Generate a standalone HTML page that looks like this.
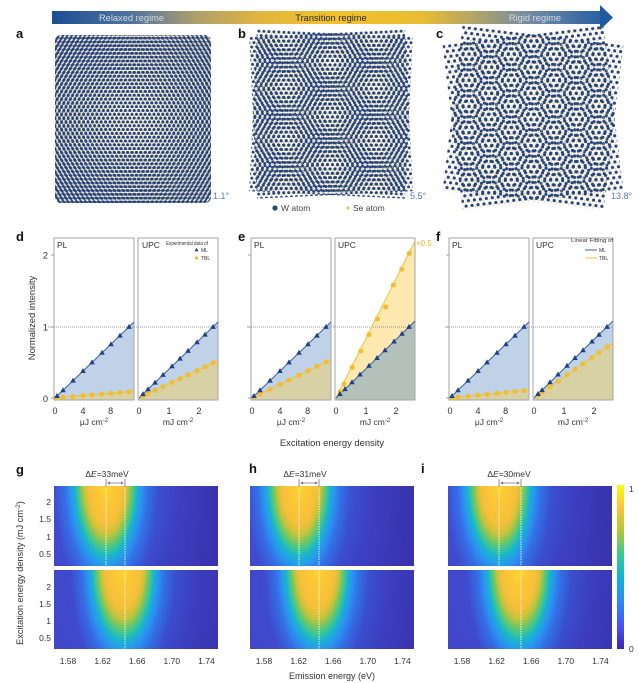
<!DOCTYPE html>
<html><head><meta charset="utf-8">
<style>
html,body{margin:0;padding:0;background:#fff;}
#w{position:relative;width:639px;height:683px;overflow:hidden;background:#fff;font-family:"Liberation Sans",sans-serif;}
.hm{position:absolute;width:164px;height:80px;
background:
radial-gradient(ellipse 104px 250px at var(--c) -4px, #fbd92c 0%, #fcc835 8%, #f6bf3a 17%, #c9c33b 21%, #80c65a 24%, #3cc793 27%, #19b4ce 30%, #2a95f1 34%, rgba(45,135,247,.5) 40%, rgba(60,110,245,0) 50%),
radial-gradient(ellipse 100px 190px at calc(var(--c) + 8px) 0px, rgba(45,135,247,.75) 0%, rgba(52,118,242,.5) 35%, rgba(66,92,236,.22) 65%, rgba(66,80,230,0) 100%),
linear-gradient(to right, #4045c6, #3c3bba 55%, #3933ae);}
.cb{position:absolute;left:617px;top:485px;width:7px;height:164px;background:linear-gradient(to top,#3e26a8 0%,#4852f4 14%,#2d87f7 28%,#12b1d6 43%,#37c897 57%,#abc739 71%,#fec338 86%,#f9fb14 100%);}
svg{position:absolute;left:0;top:0;}
</style></head><body><div id="w">
<div class="hm" style="left:54px;top:486px;--c:52px"></div>
<div class="hm" style="left:54px;top:570px;height:79px;--c:69px"></div>
<div class="hm" style="left:250px;top:486px;--c:49px"></div>
<div class="hm" style="left:250px;top:570px;height:79px;--c:67px"></div>
<div class="hm" style="left:448px;top:486px;--c:51px"></div>
<div class="hm" style="left:448px;top:570px;height:79px;--c:71px"></div>
<div class="cb"></div>
<svg width="639" height="683" viewBox="0 0 639 683" xmlns="http://www.w3.org/2000/svg" font-family="Liberation Sans, sans-serif">
<defs>
<linearGradient id="bar" x1="52" y1="0" x2="613" y2="0" gradientUnits="userSpaceOnUse">
<stop offset="0" stop-color="#1a4f95"/>
<stop offset="0.14" stop-color="#4f739e"/>
<stop offset="0.26" stop-color="#b0a06a"/>
<stop offset="0.37" stop-color="#e0b540"/>
<stop offset="0.5" stop-color="#f2c12a"/>
<stop offset="0.66" stop-color="#e9bc32"/>
<stop offset="0.74" stop-color="#b9a860"/>
<stop offset="0.86" stop-color="#6e88a6"/>
<stop offset="1" stop-color="#1d5aa0"/>
</linearGradient>
<pattern id="pa" width="4.4" height="7.621" patternUnits="userSpaceOnUse">
<g fill="#26427c"><circle cx="0" cy="0" r="1.45"/><circle cx="4.4" cy="0" r="1.45"/><circle cx="0" cy="7.621" r="1.45"/><circle cx="4.4" cy="7.621" r="1.45"/><circle cx="2.2" cy="3.81" r="1.45"/></g>
<g fill="#e0c14a"><circle cx="2.2" cy="1.27" r="0.55"/><circle cx="0" cy="5.08" r="0.55"/><circle cx="4.4" cy="5.08" r="0.55"/></g>
</pattern>
<pattern id="pb" width="5" height="8.66" patternUnits="userSpaceOnUse">
<g fill="#26427c"><circle cx="0" cy="0" r="1.5"/><circle cx="5" cy="0" r="1.5"/><circle cx="0" cy="8.66" r="1.5"/><circle cx="5" cy="8.66" r="1.5"/><circle cx="2.5" cy="4.33" r="1.5"/></g>
<g fill="#e0c14a"><circle cx="2.5" cy="1.443" r="0.6"/><circle cx="0" cy="5.774" r="0.6"/><circle cx="5" cy="5.774" r="0.6"/></g>
</pattern>
<pattern id="pc" width="6" height="10.392" patternUnits="userSpaceOnUse">
<g fill="#26427c"><circle cx="0" cy="0" r="1.6"/><circle cx="6" cy="0" r="1.6"/><circle cx="0" cy="10.392" r="1.6"/><circle cx="6" cy="10.392" r="1.6"/><circle cx="3" cy="5.196" r="1.6"/></g>
<g fill="#e0c14a"><circle cx="3" cy="1.732" r="0.65"/><circle cx="0" cy="6.928" r="0.65"/><circle cx="6" cy="6.928" r="0.65"/></g>
</pattern>
<clipPath id="ca"><rect x="55" y="35" width="156" height="168" rx="6"/></clipPath>
<path id="t" d="M0,-3.1L2.8,1.9L-2.8,1.9Z" fill="#1d4088"/>
<circle id="o" r="2.5" fill="#f3bd2c"/>
</defs>

<!-- top bar -->
<rect x="52" y="11" width="550" height="13" fill="url(#bar)"/>
<path d="M600,5L613,17.5L600,30Z" fill="#1d5aa0"/>
<text x="131.5" y="21" font-size="9.3" text-anchor="middle" fill="#d4dbe6">Relaxed regime</text>
<text x="331" y="21" font-size="9.3" text-anchor="middle" fill="#2a2a2a">Transition regime</text>
<text x="535" y="21" font-size="9.3" text-anchor="middle" fill="#d6dce6">Rigid regime</text>

<!-- panel labels -->
<g font-weight="bold" font-size="13" fill="#111">
<text x="16" y="38">a</text><text x="238" y="38">b</text><text x="436" y="38">c</text>
<text x="16" y="241">d</text><text x="238" y="241">e</text><text x="436" y="241">f</text>
<text x="16" y="474">g</text><text x="249" y="473">h</text><text x="421" y="473">i</text>
</g>

<!-- moire a -->
<g clip-path="url(#ca)">
<rect x="45" y="25" width="176" height="188" fill="url(#pa)" transform="rotate(0.55 133 119)"/>
<rect x="45" y="25" width="176" height="188" fill="url(#pa)" transform="rotate(-0.55 133 119)"/>
</g>
<!-- moire b -->
<rect x="253" y="33" width="156" height="162" fill="url(#pb)" transform="rotate(2.75 331 114)"/>
<rect x="253" y="33" width="156" height="162" fill="url(#pb)" transform="rotate(-2.75 331 114)"/>
<!-- moire c -->
<rect x="452" y="35" width="162" height="166" fill="url(#pc)" transform="rotate(6.9 533 118)"/>
<rect x="452" y="35" width="162" height="166" fill="url(#pc)" transform="rotate(-6.9 533 118)"/>

<g font-size="9" fill="#5a7db0">
<text x="213" y="199">1.1°</text><text x="410" y="199">5.5°</text><text x="611" y="199">13.8°</text>
</g>
<circle cx="275" cy="208" r="2.6" fill="#29457f"/>
<text x="281" y="211" font-size="8.5" fill="#444">W atom</text>
<circle cx="348" cy="208" r="1.5" fill="#e0c14a"/>
<text x="353" y="211" font-size="8.5" fill="#444">Se atom</text>

<!-- middle fills -->
<polygon points="54,399 134,322 134,400 54,400" fill="#bfd2e8"/>
<polygon points="54,399 134,391.3 134,400 54,400" fill="#d8d1a6"/>
<polygon points="138,399 218,322 218,400 138,400" fill="#bfd2e8"/>
<polygon points="138,399 218,360.6 218,400 138,400" fill="#d8d1a6"/>
<polygon points="251,399 331,322 331,400 251,400" fill="#bfd2e8"/>
<polygon points="251,399 331,359.6 331,400 251,400" fill="#d8d1a6"/>
<polygon points="335,399 415,241 415,400 335,400" fill="#fde9b0"/>
<polygon points="335,399 415,321 415,400 335,400" fill="#b4c1ba"/>
<polygon points="449,399 529,322 529,400 449,400" fill="#bfd2e8"/>
<polygon points="449,399 529,390 529,400 449,400" fill="#d8d1a6"/>
<polygon points="533,399 613,321 613,400 533,400" fill="#bfd2e8"/>
<polygon points="533,399 613,342.8 613,400 533,400" fill="#d8d1a6"/>

<!-- dotted y=1 -->
<g stroke="#777" stroke-width="0.8" stroke-dasharray="1 1">
<line x1="48" y1="327" x2="218" y2="327"/>
<line x1="247" y1="327" x2="415" y2="327"/>
<line x1="445" y1="327" x2="613" y2="327"/>
</g>

<!-- boxes -->
<g fill="none" stroke="#a5a5a5" stroke-width="1">
<rect x="54" y="238" width="80" height="162"/>
<rect x="138" y="238" width="80" height="162"/>
<rect x="251" y="238" width="80" height="162"/>
<rect x="335" y="238" width="80" height="162"/>
<rect x="449" y="238" width="80" height="162"/>
<rect x="533" y="238" width="80" height="162"/>
</g>
<g stroke="#888" stroke-width="0.8">
<path d="M51,255H54M51,327H54M51,398H54M248,255H251M248,327H251M248,398H251M446,255H449M446,327H449M446,398H449"/>
</g>

<!-- lines -->
<g stroke-width="1" fill="none">
<g stroke="#f1c03a">
<line x1="55" y1="398" x2="134" y2="391.3"/>
<line x1="139" y1="398" x2="218" y2="360.6"/>
<line x1="252" y1="398" x2="331" y2="359.6"/>
<line x1="336" y1="398" x2="415" y2="241"/>
<line x1="450" y1="398" x2="529" y2="390"/>
<line x1="534" y1="398" x2="613" y2="342.8"/>
</g>
<g stroke="#35609f">
<line x1="55" y1="398" x2="134" y2="322"/>
<line x1="139" y1="398" x2="218" y2="322"/>
<line x1="252" y1="398" x2="331" y2="322"/>
<line x1="336" y1="398" x2="415" y2="321"/>
<line x1="450" y1="398" x2="529" y2="322"/>
<line x1="534" y1="398" x2="613" y2="321"/>
</g>
</g>

<!-- TBL markers -->
<g>
<use href="#o" x="57" y="397.8"/><use href="#o" x="63" y="397.3"/><use href="#o" x="73" y="396.5"/><use href="#o" x="83" y="395.6"/><use href="#o" x="92" y="394.9"/><use href="#o" x="102" y="394"/><use href="#o" x="111" y="393.2"/><use href="#o" x="120" y="392.5"/><use href="#o" x="129" y="391.7"/>
<use href="#o" x="143" y="396.1"/><use href="#o" x="148" y="393.7"/><use href="#o" x="155" y="390.4"/><use href="#o" x="163" y="386.6"/><use href="#o" x="172" y="382.4"/><use href="#o" x="180" y="378.6"/><use href="#o" x="188" y="374.8"/><use href="#o" x="197" y="370.6"/><use href="#o" x="205" y="366.8"/><use href="#o" x="213" y="363"/>
<use href="#o" x="254" y="397"/><use href="#o" x="260" y="394.1"/><use href="#o" x="270" y="389.3"/><use href="#o" x="280" y="384.4"/><use href="#o" x="289" y="380"/><use href="#o" x="299" y="375.2"/><use href="#o" x="308" y="370.8"/><use href="#o" x="317" y="366.4"/><use href="#o" x="326" y="362"/>
<use href="#o" x="340" y="391.7"/><use href="#o" x="344" y="384"/><use href="#o" x="352.3" y="367.3"/><use href="#o" x="360.7" y="351"/><use href="#o" x="369" y="334.7"/><use href="#o" x="377.3" y="319"/><use href="#o" x="385.7" y="307"/><use href="#o" x="393.3" y="285"/><use href="#o" x="401.7" y="269.3"/><use href="#o" x="409.3" y="253.3"/>
<use href="#o" x="452" y="397.8"/><use href="#o" x="458" y="397.2"/><use href="#o" x="468" y="396.2"/><use href="#o" x="478" y="395.2"/><use href="#o" x="487" y="394.3"/><use href="#o" x="497" y="393.3"/><use href="#o" x="506" y="392.3"/><use href="#o" x="515" y="391.4"/><use href="#o" x="524" y="390.5"/>
<use href="#o" x="538" y="395.2"/><use href="#o" x="542" y="392.4"/><use href="#o" x="550" y="386.8"/><use href="#o" x="558" y="381.2"/><use href="#o" x="567" y="374.9"/><use href="#o" x="575" y="369.3"/><use href="#o" x="583" y="363.8"/><use href="#o" x="592" y="357.5"/><use href="#o" x="599" y="352.6"/><use href="#o" x="607" y="347"/>
</g>
<!-- ML markers -->
<g>
<use href="#t" x="57" y="396.1"/><use href="#t" x="63" y="390.3"/><use href="#t" x="73" y="380.7"/><use href="#t" x="83" y="371.1"/><use href="#t" x="92" y="362.5"/><use href="#t" x="102" y="352.9"/><use href="#t" x="111" y="344.3"/><use href="#t" x="120" y="335.7"/><use href="#t" x="129" y="327"/>
<use href="#t" x="143" y="394.2"/><use href="#t" x="148" y="389.4"/><use href="#t" x="155" y="382.7"/><use href="#t" x="163" y="375"/><use href="#t" x="172" y="366.4"/><use href="#t" x="180" y="358.7"/><use href="#t" x="188" y="351"/><use href="#t" x="197" y="342.4"/><use href="#t" x="205" y="334.7"/><use href="#t" x="213" y="327"/>
<use href="#t" x="254" y="396.1"/><use href="#t" x="260" y="390.3"/><use href="#t" x="270" y="380.7"/><use href="#t" x="280" y="371.1"/><use href="#t" x="289" y="362.5"/><use href="#t" x="299" y="352.9"/><use href="#t" x="308" y="344.3"/><use href="#t" x="317" y="335.7"/><use href="#t" x="326" y="327"/>
<use href="#t" x="340" y="394.1"/><use href="#t" x="345" y="389.2"/><use href="#t" x="352" y="382.4"/><use href="#t" x="360" y="374.6"/><use href="#t" x="369" y="365.9"/><use href="#t" x="377" y="358.1"/><use href="#t" x="385" y="350.3"/><use href="#t" x="394" y="341.6"/><use href="#t" x="402" y="333.8"/><use href="#t" x="409" y="327"/>
<use href="#t" x="452" y="396.1"/><use href="#t" x="458" y="390.3"/><use href="#t" x="468" y="380.7"/><use href="#t" x="478" y="371.1"/><use href="#t" x="487" y="362.5"/><use href="#t" x="497" y="352.9"/><use href="#t" x="506" y="344.3"/><use href="#t" x="515" y="335.7"/><use href="#t" x="524" y="327"/>
<use href="#t" x="538" y="394.1"/><use href="#t" x="542" y="390.2"/><use href="#t" x="550" y="382.4"/><use href="#t" x="558" y="374.6"/><use href="#t" x="567" y="365.9"/><use href="#t" x="575" y="358.1"/><use href="#t" x="583" y="350.3"/><use href="#t" x="592" y="341.6"/><use href="#t" x="599" y="334.8"/><use href="#t" x="607" y="327"/>
</g>

<!-- middle texts -->
<g font-size="8.5" fill="#333">
<text x="57" y="248">PL</text><text x="142" y="248">UPC</text>
<text x="254" y="248">PL</text><text x="338" y="248">UPC</text>
<text x="452" y="248">PL</text><text x="536" y="248">UPC</text>
</g>
<text x="416" y="246" font-size="8" fill="#f0b929">×0.5</text>
<g font-size="5" fill="#333">
<text x="166" y="245" textLength="42" lengthAdjust="spacingAndGlyphs">Experimental data of</text>
<text x="201" y="252">ML</text><text x="201" y="260">TBL</text>
<text x="571" y="242" textLength="42" lengthAdjust="spacingAndGlyphs">Linear Fitting of</text>
<text x="599" y="252">ML</text><text x="599" y="260">TBL</text>
</g>
<path d="M196.5,247.8L198.5,251.3L194.5,251.3Z" fill="#1d4088"/>
<circle cx="196.5" cy="258" r="1.6" fill="#f3bd2c"/>
<line x1="585" y1="250" x2="597" y2="250" stroke="#35609f" stroke-width="1"/>
<line x1="585" y1="258" x2="597" y2="258" stroke="#f1c03a" stroke-width="1"/>

<g font-size="9.3" fill="#333" text-anchor="end">
<text x="48" y="258.5">2</text><text x="48" y="330.5">1</text><text x="48" y="402">0</text>
</g>
<text transform="translate(35 318) rotate(-90)" font-size="9.4" fill="#333" text-anchor="middle">Normalized intensity</text>

<g font-size="9" fill="#333" text-anchor="middle">
<text x="55" y="414">0</text><text x="83" y="414">4</text><text x="110.6" y="414">8</text>
<text x="139" y="414">0</text><text x="169" y="414">1</text><text x="199" y="414">2</text>
<text x="252" y="414">0</text><text x="280" y="414">4</text><text x="307.6" y="414">8</text>
<text x="336" y="414">0</text><text x="366" y="414">1</text><text x="396" y="414">2</text>
<text x="450" y="414">0</text><text x="478" y="414">4</text><text x="505.6" y="414">8</text>
<text x="534" y="414">0</text><text x="564" y="414">1</text><text x="594" y="414">2</text>
</g>
<g font-size="8.5" fill="#333" text-anchor="middle">
<text x="94" y="425">μJ cm<tspan font-size="6" dy="-3">-2</tspan></text>
<text x="178" y="425">mJ cm<tspan font-size="6" dy="-3">-2</tspan></text>
<text x="291" y="425">μJ cm<tspan font-size="6" dy="-3">-2</tspan></text>
<text x="375" y="425">mJ cm<tspan font-size="6" dy="-3">-2</tspan></text>
<text x="489" y="425">μJ cm<tspan font-size="6" dy="-3">-2</tspan></text>
<text x="573" y="425">mJ cm<tspan font-size="6" dy="-3">-2</tspan></text>
</g>
<text x="332" y="446" font-size="9.4" fill="#333" text-anchor="middle">Excitation energy density</text>

<!-- heatmap overlays -->
<g stroke="#fff" stroke-opacity="0.85" stroke-width="1" stroke-dasharray="1.5 1">
<line x1="106" y1="486" x2="106" y2="566"/><line x1="125" y1="486" x2="125" y2="649"/>
<line x1="299" y1="486" x2="299" y2="566"/><line x1="319" y1="486" x2="319" y2="649"/>
<line x1="499" y1="486" x2="499" y2="566"/><line x1="521" y1="486" x2="521" y2="649"/>
</g>
<g stroke="#777" stroke-width="0.8" fill="none">
<path d="M106,479V487M125,479V487M108,483H123"/>
<path d="M299,479V487M319,479V487M301,483H317"/>
<path d="M499,479V487M521,479V487M501,483H519"/>
</g>
<g fill="#777">
<path d="M107,483l3,-1.5v3zM124,483l-3,-1.5v3z"/>
<path d="M300,483l3,-1.5v3zM318,483l-3,-1.5v3z"/>
<path d="M500,483l3,-1.5v3zM520,483l-3,-1.5v3z"/>
</g>
<g font-size="8.5" fill="#333" text-anchor="middle">
<text x="107" y="477">Δ<tspan font-style="italic">E</tspan>=33meV</text>
<text x="305" y="477">Δ<tspan font-style="italic">E</tspan>=31meV</text>
<text x="509" y="477">Δ<tspan font-style="italic">E</tspan>=30meV</text>
</g>
<g font-size="8.5" fill="#333" text-anchor="end">
<text x="51" y="505">2</text><text x="51" y="522">1.5</text><text x="51" y="540">1</text><text x="51" y="557">0.5</text>
<text x="51" y="590">2</text><text x="51" y="607">1.5</text><text x="51" y="624">1</text><text x="51" y="641">0.5</text>
</g>
<g font-size="8.5" fill="#333" text-anchor="middle">
<text x="68" y="664">1.58</text><text x="102.6" y="664">1.62</text><text x="137.2" y="664">1.66</text><text x="171.8" y="664">1.70</text><text x="206.4" y="664">1.74</text>
<text x="264" y="664">1.58</text><text x="298.6" y="664">1.62</text><text x="333.2" y="664">1.66</text><text x="367.8" y="664">1.70</text><text x="402.4" y="664">1.74</text>
<text x="462" y="664">1.58</text><text x="496.6" y="664">1.62</text><text x="531.2" y="664">1.66</text><text x="565.8" y="664">1.70</text><text x="600.4" y="664">1.74</text>
</g>
<text x="332" y="679" font-size="9" fill="#333" text-anchor="middle">Emission energy (eV)</text>
<text transform="translate(23 573) rotate(-90)" font-size="9.2" fill="#333" text-anchor="middle">Excitation energy density (mJ cm<tspan font-size="6.5" dy="-3">-2</tspan><tspan dy="3">)</tspan></text>
<g font-size="8.5" fill="#333">
<text x="629" y="492">1</text><text x="629" y="652">0</text>
</g>
</svg>
</div></body></html>
